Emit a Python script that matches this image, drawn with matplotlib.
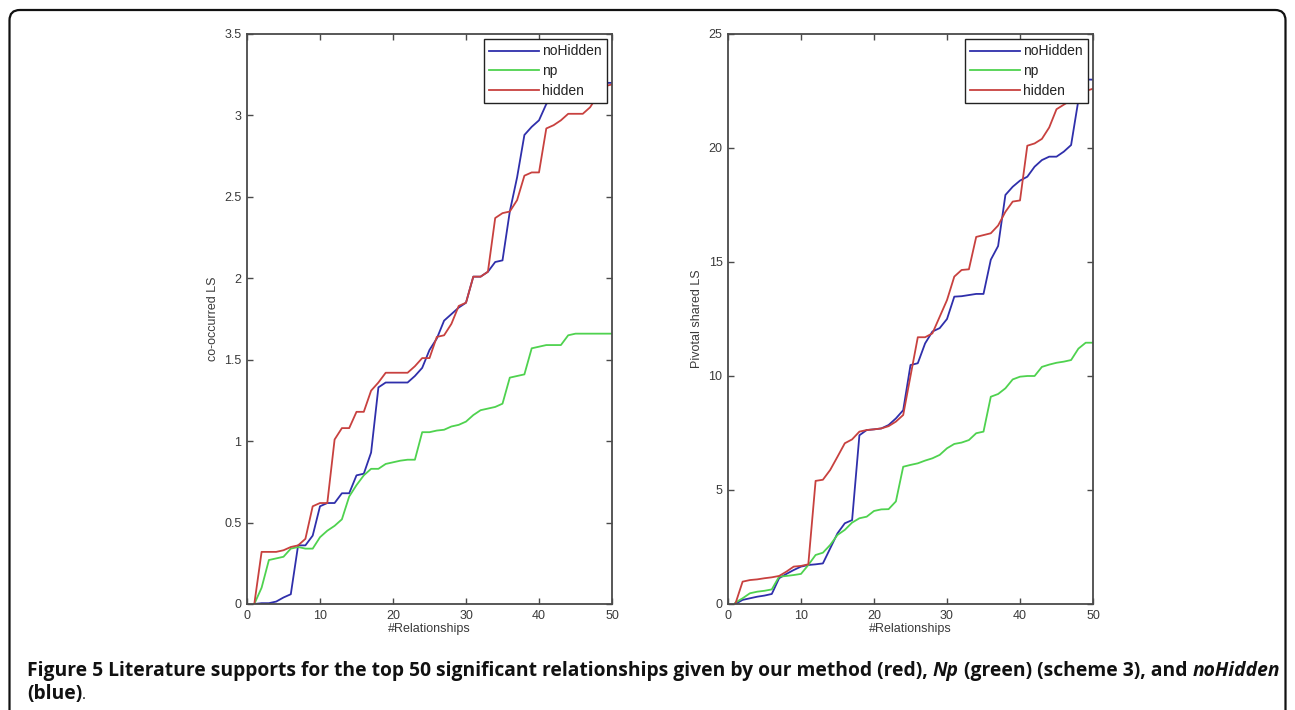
import matplotlib
matplotlib.use("Agg")
import matplotlib.pyplot as plt
from matplotlib.patches import FancyBboxPatch
import numpy as np

# ---------------- data ----------------
x_rel = list(range(1, 51))

left_noHidden = [0, 0.005, 0.005, 0.015, 0.04, 0.06, 0.36, 0.36, 0.42, 0.60,
                 0.62, 0.62, 0.68, 0.68, 0.79, 0.80, 0.93, 1.33, 1.36, 1.36,
                 1.36, 1.36, 1.40, 1.45, 1.56, 1.63, 1.74, 1.78, 1.82, 1.85,
                 2.01, 2.01, 2.04, 2.10, 2.11, 2.41, 2.62, 2.88, 2.93, 2.97,
                 3.07, 3.11, 3.13, 3.15, 3.16, 3.17, 3.18, 3.19, 3.20, 3.20]
left_np = [0, 0.10, 0.27, 0.28, 0.29, 0.34, 0.35, 0.34, 0.34, 0.41,
           0.45, 0.48, 0.52, 0.66, 0.73, 0.79, 0.83, 0.83, 0.86, 0.87,
           0.88, 0.886, 0.886, 1.055, 1.055, 1.065, 1.07, 1.09, 1.10, 1.12,
           1.16, 1.19, 1.20, 1.21, 1.23, 1.39, 1.40, 1.41, 1.57, 1.58,
           1.59, 1.59, 1.59, 1.65, 1.66, 1.66, 1.66, 1.66, 1.66, 1.66]
left_hidden = [0, 0.32, 0.32, 0.32, 0.33, 0.35, 0.36, 0.40, 0.60, 0.62,
               0.62, 1.01, 1.08, 1.08, 1.18, 1.18, 1.31, 1.36, 1.42, 1.42,
               1.42, 1.42, 1.46, 1.51, 1.51, 1.64, 1.65, 1.72, 1.83, 1.85,
               2.01, 2.01, 2.04, 2.37, 2.40, 2.41, 2.48, 2.63, 2.65, 2.65,
               2.92, 2.94, 2.97, 3.01, 3.01, 3.01, 3.05, 3.12, 3.18, 3.19]

right_noHidden = [0, 0.18, 0.25, 0.32, 0.37, 0.44, 1.13, 1.32, 1.49, 1.64,
                  1.71, 1.74, 1.78, 2.44, 3.10, 3.54, 3.68, 7.40, 7.63, 7.66,
                  7.70, 7.85, 8.14, 8.50, 10.48, 10.56, 11.43, 11.95, 12.10, 12.50,
                  13.48, 13.50, 13.55, 13.60, 13.60, 15.10, 15.70, 17.94, 18.30, 18.57,
                  18.74, 19.18, 19.47, 19.62, 19.62, 19.84, 20.13, 22.10, 23.00, 23.00]
right_np = [0.06, 0.25, 0.47, 0.54, 0.58, 0.64, 1.20, 1.23, 1.27, 1.32,
            1.71, 2.15, 2.25, 2.59, 3.03, 3.25, 3.57, 3.76, 3.83, 4.08,
            4.15, 4.16, 4.50, 6.02, 6.10, 6.17, 6.29, 6.39, 6.54, 6.83,
            7.02, 7.08, 7.19, 7.49, 7.56, 9.09, 9.21, 9.46, 9.85, 9.97,
            10.00, 10.00, 10.40, 10.50, 10.58, 10.63, 10.70, 11.20, 11.46, 11.46]
right_hidden = [0, 0.98, 1.05, 1.08, 1.13, 1.17, 1.23, 1.42, 1.64, 1.67,
                1.74, 5.40, 5.45, 5.88, 6.46, 7.05, 7.22, 7.56, 7.63, 7.66,
                7.70, 7.80, 8.00, 8.29, 10.00, 11.70, 11.70, 11.87, 12.60, 13.33,
                14.36, 14.65, 14.68, 16.10, 16.18, 16.26, 16.60, 17.20, 17.65, 17.70,
                20.10, 20.20, 20.40, 20.90, 21.70, 21.90, 22.10, 22.30, 22.50, 22.60]

series_names = ["noHidden", "np", "hidden"]
series_colors = ["#2f2fab", "#4fd24f", "#c8413f"]

left_yticks = [0, 0.5, 1, 1.5, 2, 2.5, 3, 3.5]
left_yticklabels = ["0", "0.5", "1", "1.5", "2", "2.5", "3", "3.5"]
right_yticks = [0, 5, 10, 15, 20, 25]
xticks = [0, 10, 20, 30, 40, 50]

left_ylabel = "co-occurred LS"
right_ylabel = "Pivotal shared LS"
xlabel = "#Relationships"

caption_pieces_line1 = [
    ("Figure 5 Literature supports for the top 50 significant relationships given by our method (red), ", "normal"),
    ("Np", "italic"),
    (" (green) (scheme 3), and ", "normal"),
    ("noHidden", "italic"),
]
caption_pieces_line2 = [("(blue)", "normal")]
caption_tail = "."

# ---------------- figure ----------------
W, H = 1295, 710
fig = plt.figure(figsize=(W / 100, H / 100), dpi=100)
fig.patch.set_facecolor("white")

# rounded border (bottom open beyond the image)
border = FancyBboxPatch((9.5 / W, -20 / H), (1285.5 - 9.5) / W, (710 - 10 + 20) / H,
                        boxstyle="round,pad=0,rounding_size=0.008",
                        transform=fig.transFigure, fill=False,
                        edgecolor="#111111", linewidth=1.6, mutation_aspect=W / H)
fig.patches.append(border)

TICK_COLOR = "#3a3a3a"
SPINE_COLOR = "#4a4a4a"
FONT = "Liberation Sans"


def make_axes(left_px, data, yticks, yticklabels, ylim, ylabel):
    ax = fig.add_axes([left_px / W, (H - 604) / H, 365 / W, 570 / H])
    for vals, name, col in zip(data, series_names, series_colors):
        ax.plot(x_rel, vals, color=col, linewidth=1.3, label=name)
    ax.set_xlim(0, 50)
    ax.set_ylim(*ylim)
    ax.set_xticks(xticks)
    ax.set_xticklabels([str(t) for t in xticks], fontfamily=FONT, fontsize=9, color=TICK_COLOR)
    ax.set_yticks(yticks)
    ax.set_yticklabels(yticklabels, fontfamily=FONT, fontsize=9, color=TICK_COLOR)
    ax.tick_params(direction="in", length=4, width=1.0, color=SPINE_COLOR,
                   top=True, right=True, pad=4)
    for sp in ax.spines.values():
        sp.set_color(SPINE_COLOR)
        sp.set_linewidth(1.3)
    ax.set_xlabel(xlabel, fontfamily=FONT, fontsize=9, color=TICK_COLOR, labelpad=1)
    ax.set_ylabel(ylabel, fontfamily=FONT, fontsize=9, color=TICK_COLOR, labelpad=4)
    leg = ax.legend(loc="upper right", frameon=True, fancybox=False,
                    prop={"family": FONT, "size": 10}, handlelength=3.6,
                    borderaxespad=0.35, borderpad=0.4, labelspacing=0.4,
                    handletextpad=0.2, framealpha=1)
    leg.get_frame().set_edgecolor("#222222")
    leg.get_frame().set_linewidth(1.0)
    for t in leg.get_texts():
        t.set_color("#222222")
    return ax


make_axes(247, [left_noHidden, left_np, left_hidden], left_yticks, left_yticklabels,
          (0, 3.5), left_ylabel)
make_axes(728, [right_noHidden, right_np, right_hidden], right_yticks,
          [str(t) for t in right_yticks], (0, 25), right_ylabel)

# ---------------- caption ----------------
CAP_FONT = "Open Sans"
renderer = fig.canvas.get_renderer()


def line_width(pieces, size):
    total = 0
    for txt, style in pieces:
        t = fig.text(0, 0, txt, fontfamily=CAP_FONT, fontweight="bold", fontstyle=style,
                     fontsize=size)
        total += t.get_window_extent(renderer).width
        t.remove()
    return total

target = 1271 - 27
base_size = 12
w0 = line_width(caption_pieces_line1, base_size)
cap_size = base_size * target / w0


def draw_line(pieces, x_px, baseline_px, size):
    x = x_px
    for txt, style in pieces:
        t = fig.text(x / W, 1 - baseline_px / H, txt, fontfamily=CAP_FONT, fontweight="bold",
                     fontstyle=style, fontsize=size, va="baseline", ha="left", color="#111111")
        x += t.get_window_extent(renderer).width
    return x

draw_line(caption_pieces_line1, 27, 676, cap_size)
xe = draw_line(caption_pieces_line2, 27, 699, cap_size)
fig.text(xe / W, 1 - 699 / H, caption_tail, fontfamily=CAP_FONT, fontsize=cap_size * 0.8,
         va="baseline", ha="left", color="#111111")

fig.canvas.draw()
fig.savefig("out.png", dpi=100, facecolor="white")
